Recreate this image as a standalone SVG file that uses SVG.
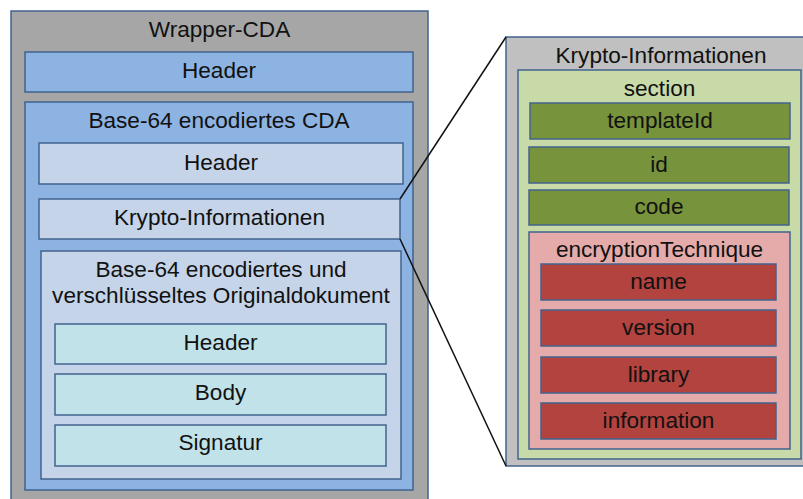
<svg xmlns="http://www.w3.org/2000/svg" width="803" height="499" viewBox="0 0 803 499">
<style>
rect{stroke:#41638e;stroke-width:1.5}
text{font-family:"Liberation Sans",Arial,sans-serif;font-size:22.6px;fill:#111;text-anchor:middle}
.gray{fill:#a6a6a6}.blue{fill:#8db3e2}.pale{fill:#c5d4e8}.cyan{fill:#c2e2e9}
.lgray{fill:#c0c0c0}.lgreen{fill:#c8daa7}.dgreen{fill:#77933c}.pink{fill:#e4abaa}.dred{fill:#b2433f}
</style>
<g id="wrapper"><rect class="gray" x="11" y="11" width="417" height="500"/><text x="219.5" y="37">Wrapper-CDA</text></g>
<g id="wrapper-header"><rect class="blue" x="25" y="52" width="388" height="40"/><text x="219" y="78">Header</text></g>
<g id="base64"><rect class="blue" x="25" y="102" width="388" height="388"/><text x="219" y="128">Base-64 encodiertes CDA</text></g>
<g id="cda-header"><rect class="pale" x="39" y="143" width="364" height="41"/><text x="221" y="170">Header</text></g>
<g id="krypto"><rect class="pale" x="39" y="199" width="361" height="40"/><text x="219.5" y="225">Krypto-Informationen</text></g>
<g id="original"><rect class="pale" x="41" y="251" width="360" height="228"/><text x="221" y="277">Base-64 encodiertes und</text><text x="221" y="303">verschlüsseltes Originaldokument</text></g>
<g id="orig-header"><rect class="cyan" x="55" y="324" width="331" height="40"/><text x="220.5" y="350">Header</text></g>
<g id="body"><rect class="cyan" x="55" y="374" width="331" height="41"/><text x="220.5" y="400">Body</text></g>
<g id="signatur"><rect class="cyan" x="55" y="425" width="331" height="41"/><text x="220.5" y="450">Signatur</text></g>
<g id="krypto-detail"><rect class="lgray" x="506" y="37" width="310" height="429"/><text x="661" y="63">Krypto-Informationen</text></g>
<g id="section"><rect class="lgreen" x="518" y="70" width="283" height="389"/><text x="659.5" y="96">section</text></g>
<g id="templateId"><rect class="dgreen" x="530" y="103" width="260" height="36"/><text x="660" y="128">templateId</text></g>
<g id="id"><rect class="dgreen" x="529" y="147" width="260" height="36"/><text x="659" y="172">id</text></g>
<g id="code"><rect class="dgreen" x="529" y="190" width="260" height="35"/><text x="659" y="214">code</text></g>
<g id="encryptionTechnique"><rect class="pink" x="529" y="232" width="261" height="217"/><text x="659.5" y="257">encryptionTechnique</text></g>
<g id="name"><rect class="dred" x="541" y="264" width="235" height="36"/><text x="658.5" y="289">name</text></g>
<g id="version"><rect class="dred" x="541" y="310" width="235" height="36"/><text x="658.5" y="335">version</text></g>
<g id="library"><rect class="dred" x="541" y="357" width="235" height="36"/><text x="658.5" y="382">library</text></g>
<g id="information"><rect class="dred" x="541" y="403" width="235" height="36"/><text x="658.5" y="428">information</text></g>
<g id="connectors" stroke="#111" stroke-width="1.5" fill="none">
<line x1="400" y1="199" x2="506" y2="37"/>
<line x1="400" y1="239" x2="506" y2="466"/>
</g>
</svg>
